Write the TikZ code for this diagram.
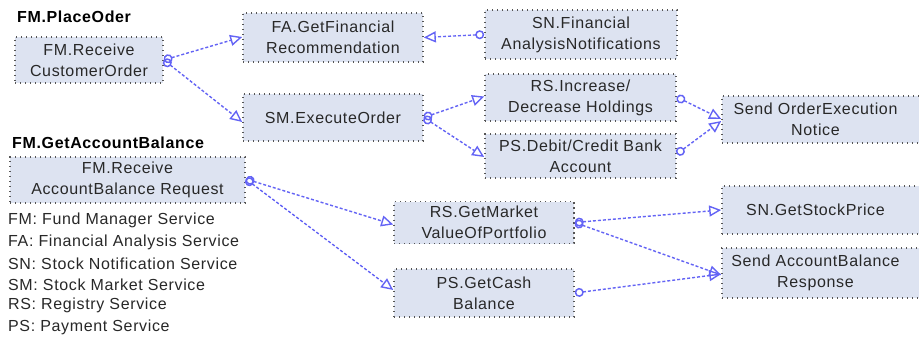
\documentclass[tikz,border=0pt]{standalone}
\usepackage{fontspec}
\setmainfont{Liberation Sans}[LetterSpace=4]
\usetikzlibrary{arrows.meta}
\definecolor{boxfill}{RGB}{221,227,241}
\definecolor{boxline}{RGB}{85,85,85}
\definecolor{conn}{RGB}{100,100,245}
\definecolor{txt}{RGB}{40,40,40}
\tikzset{
  svc/.style={draw=boxline, fill=boxfill, line width=1.6pt, dash pattern=on 1.4pt off 3.6pt,
    rectangle, inner sep=0pt, align=center, text=txt,
    font=\fontsize{16}{21}\selectfont},
  svclabel/.style={inner sep=0pt, align=center, text=txt, font=\fontsize{16}{21}\selectfont},
  legend/.style={inner sep=0pt, anchor=west, text=txt, font=\fontsize{16}{21}\selectfont},
  title/.style={inner sep=0pt, anchor=west, text=black, font=\fontsize{16}{21}\selectfont\bfseries},
  flow/.style={draw=conn, line width=1.4pt, dash pattern=on 3pt off 2pt,
    {Circle[open,length=9pt,width=9pt,line width=1.5pt]}-{Triangle[open,length=12pt,width=11pt,line width=1.4pt]}},
}
\begin{document}
\begin{tikzpicture}[x=1pt,y=-1pt]
\useasboundingbox (0,0) rectangle (919,337);
\fill[white] (0,0) rectangle (919,337);

% titles
\node[title] (t1) at (17,16.5) {FM.PlaceOder};
\node[title] (t2) at (12,143) {FM.GetAccountBalance};

% upper group
\node[svc, minimum width=148pt, minimum height=46pt] (cro) at (89,60) {FM.Receive\\CustomerOrder};
\node[svc, minimum width=180pt, minimum height=49pt] (fa) at (333,37.5) {FA.GetFinancial\\Recommendation};
\node[svc, minimum width=192pt, minimum height=49pt] (sn) at (581,34.5) {SN.Financial\\AnalysisNotifications};
\node[svc, minimum width=180pt, minimum height=47pt] (sm) at (333,117.5) {SM.ExecuteOrder};
\node[svc, minimum width=191pt, minimum height=47pt] (rs1) at (580.5,97.5) {RS.Increase/\\Decrease Holdings};
\node[svc, minimum width=191pt, minimum height=44pt] (ps1) at (580.5,156) {PS.Debit/Credit Bank\\Account};
\node[svc, minimum width=210pt, minimum height=47pt] (seo) at (827,119.5) {};
\node[svclabel] (seot) at (815.5,119.5) {Send OrderExecution\\Notice};

% lower group
\node[svc, minimum width=235pt, minimum height=46pt] (crab) at (127.5,180) {FM.Receive\\AccountBalance Request};
\node[svc, minimum width=180pt, minimum height=42pt] (rsg) at (484,222.5) {RS.GetMarket\\ValueOfPortfolio};
\node[svc, minimum width=180pt, minimum height=48pt] (psc) at (484,293) {PS.GetCash\\Balance};
\node[svc, minimum width=210pt, minimum height=48pt] (ssp) at (827,210) {};
\node[svclabel] (sspt) at (815.5,210) {SN.GetStockPrice};
\node[svc, minimum width=210pt, minimum height=50pt] (sab) at (827,273) {};
\node[svclabel] (sabt) at (815.5,273) {Send AccountBalance\\Response};

% legend
\node[legend] (l1) at (8,220) {FM: Fund Manager Service};
\node[legend] (l2) at (8,242) {FA: Financial Analysis Service};
\node[legend] (l3) at (8,263.5) {SN: Stock Notification Service};
\node[legend] (l4) at (8,285) {SM: Stock Market Service};
\node[legend] (l5) at (8,305.5) {RS: Registry Service};
\node[legend] (l6) at (8,327) {PS: Payment Service};

% connectors
\draw[flow] (cro.east) -- ([yshift=0.5pt]fa.west);
\draw[flow] (cro.east) -- ([yshift=-4.5pt]sm.west);
\draw[flow] (sn.west) -- (fa.east);
\draw[flow] (sm.east) -- ([yshift=1pt]rs1.west);
\draw[flow] (sm.east) -- ([yshift=-1pt]ps1.west);
\draw[flow] ([yshift=0.5pt]rs1.east) -- ([yshift=0.5pt]seo.west);
\draw[flow] ([yshift=2pt]ps1.east) -- ([yshift=-1.5pt]seo.west);
\draw[flow] ([yshift=1pt]crab.east) -- ([yshift=-2pt]rsg.west);
\draw[flow] ([yshift=1pt]crab.east) -- ([yshift=3pt]psc.west);
\draw[flow] (rsg.east) -- ([yshift=0pt]ssp.west);
\draw[flow] (rsg.east) -- ([yshift=-2pt]sab.west);
\draw[flow] (psc.east) -- ([yshift=-1pt]sab.west);
\end{tikzpicture}
\end{document}
